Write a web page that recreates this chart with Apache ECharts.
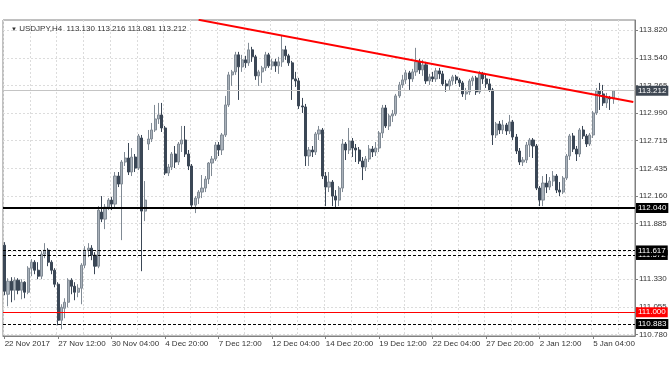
<!DOCTYPE html>
<html><head><meta charset="utf-8">
<script src="https://cdn.jsdelivr.net/npm/echarts@6/dist/echarts.min.js"></script>
<style>html,body{margin:0;padding:0;background:#fff}#c{width:672px;height:372px}</style>
</head><body><div id="c"></div>
<script>
const tickLabels = ['22 Nov 2017','27 Nov 12:00','30 Nov 04:00','4 Dec 20:00','7 Dec 12:00','12 Dec 04:00','14 Dec 20:00','19 Dec 12:00','22 Dec 04:00','27 Dec 20:00','2 Jan 12:00','5 Jan 04:00'];
const yTickValues = [113.820,113.540,113.265,112.990,112.715,112.435,112.160,111.885,111.605,111.330,111.055,110.780];
const barCount = 189;
const categories = Array.from({length: barCount}, (_, i) => String(i));

const opens = [111.67,111.18,111.31,111.22,111.32,111.22,111.30,111.20,111.44,111.50,111.42,111.36,111.58,111.62,111.50,111.42,111.28,110.92,111.04,111.10,
111.32,111.26,111.20,111.24,111.47,111.62,111.64,111.57,111.46,112.00,111.93,112.05,112.12,112.08,112.36,112.28,112.50,112.54,112.40,112.55,
112.44,112.74,112.01,112.68,112.73,112.82,112.93,112.97,112.84,112.39,112.45,112.58,112.50,112.68,112.72,112.58,112.46,112.07,112.14,112.20,
112.24,112.33,112.49,112.53,112.67,112.62,112.77,113.07,113.37,113.40,113.57,113.45,113.52,113.49,113.62,113.55,113.36,113.40,113.44,113.57,
113.46,113.50,113.46,113.50,113.62,113.56,113.49,113.33,113.31,113.06,113.05,112.56,112.62,112.60,112.78,112.82,112.36,112.25,112.30,112.16,
112.12,112.24,112.68,112.62,112.71,112.64,112.62,112.51,112.45,112.53,112.63,112.60,112.64,112.79,113.04,112.86,112.96,112.98,113.16,113.27,
113.32,113.39,113.33,113.40,113.50,113.42,113.47,113.31,113.35,113.33,113.41,113.38,113.28,113.26,113.31,113.35,113.32,113.29,113.18,113.20,
113.31,113.34,113.20,113.38,113.33,113.28,113.22,112.77,112.88,112.82,112.87,112.81,112.90,112.75,112.61,112.50,112.52,112.67,112.72,112.66,
112.24,112.12,112.29,112.25,112.31,112.36,112.22,112.20,112.34,112.56,112.76,112.63,112.58,112.82,112.76,112.68,112.77,112.99,113.21,113.18,
113.09,113.14,113.130];
const closes = [111.21,111.31,111.22,111.32,111.22,111.30,111.20,111.44,111.50,111.42,111.36,111.58,111.62,111.50,111.42,111.28,110.92,111.05,111.10,111.32,
111.26,111.20,111.24,111.47,111.62,111.64,111.57,111.46,112.02,111.93,112.05,112.12,112.08,112.36,112.28,112.50,112.54,112.40,112.55,112.44,
112.76,112.01,112.12,112.73,112.82,112.93,112.97,112.84,112.39,112.45,112.58,112.50,112.68,112.72,112.58,112.46,112.07,112.14,112.20,112.24,
112.33,112.49,112.53,112.67,112.62,112.77,113.07,113.37,113.40,113.57,113.45,113.52,113.49,113.62,113.55,113.36,113.40,113.44,113.57,113.46,
113.50,113.46,113.50,113.62,113.56,113.49,113.33,113.31,113.06,113.05,112.56,112.62,112.60,112.78,112.82,112.36,112.25,112.30,112.16,112.12,
112.24,112.68,112.62,112.71,112.64,112.62,112.51,112.45,112.53,112.63,112.60,112.64,112.79,113.04,112.86,112.96,112.98,113.16,113.27,113.32,
113.39,113.33,113.40,113.50,113.42,113.47,113.31,113.35,113.33,113.41,113.38,113.28,113.26,113.31,113.35,113.32,113.29,113.18,113.20,113.31,
113.34,113.20,113.38,113.33,113.28,113.22,112.77,112.88,112.82,112.87,112.81,112.90,112.75,112.61,112.50,112.52,112.67,112.72,112.66,112.24,
112.12,112.29,112.25,112.31,112.36,112.22,112.20,112.34,112.56,112.76,112.63,112.58,112.82,112.76,112.68,112.77,112.99,113.21,113.18,113.09,
113.14,113.13,113.212];
const lows = [111.17,111.06,111.10,111.12,111.18,111.13,111.14,111.18,111.36,111.38,111.33,111.33,111.54,111.46,111.38,111.25,110.87,110.83,110.94,111.05,
111.18,111.12,111.15,111.08,111.44,111.55,111.52,111.38,111.44,111.90,111.83,112.02,112.02,112.05,112.25,111.72,112.46,112.37,112.36,112.40,
112.42,111.41,111.91,112.62,112.70,112.80,112.88,112.80,112.37,112.36,112.42,112.44,112.47,112.60,112.55,112.42,112.04,111.99,112.08,112.14,
112.20,112.28,112.36,112.51,112.56,112.57,112.75,113.05,113.26,113.37,113.12,113.40,113.44,113.46,113.50,113.32,113.26,113.29,113.41,113.44,
113.42,113.40,113.38,113.45,113.52,113.46,113.12,113.25,113.03,112.99,112.46,112.46,112.55,112.57,112.72,112.33,112.06,112.20,112.06,112.04,
112.06,112.20,112.52,112.58,112.55,112.50,112.48,112.32,112.41,112.50,112.55,112.56,112.60,112.74,112.84,112.82,112.90,112.96,113.14,113.24,
113.28,113.22,113.30,113.36,113.38,113.36,113.28,113.27,113.30,113.30,113.33,113.26,113.20,113.22,113.27,113.28,113.25,113.15,113.12,113.17,
113.26,113.17,113.18,113.28,113.24,113.20,112.67,112.74,112.78,112.78,112.77,112.78,112.72,112.58,112.47,112.46,112.49,112.55,112.54,112.22,
112.06,112.06,112.19,112.22,112.26,112.19,112.16,112.18,112.32,112.52,112.60,112.51,112.55,112.73,112.65,112.66,112.74,112.97,113.02,113.06,
113.04,113.02,113.081];
const highs = [111.70,111.34,111.35,111.35,111.34,111.33,111.31,111.46,111.53,111.52,111.50,111.61,111.69,111.64,111.52,111.44,111.30,111.08,111.14,111.34,
111.34,111.30,111.28,111.49,111.66,111.69,111.67,111.60,112.06,112.16,112.08,112.14,112.15,112.40,112.40,112.52,112.60,112.69,112.64,112.58,
112.78,112.77,112.31,112.82,112.89,113.07,113.09,113.09,112.86,112.48,112.60,112.66,112.70,112.86,112.86,112.62,112.48,112.16,112.22,112.37,
112.36,112.50,112.56,112.70,112.70,112.79,113.16,113.40,113.42,113.60,113.60,113.57,113.56,113.69,113.65,113.57,113.42,113.46,113.60,113.59,
113.53,113.53,113.55,113.76,113.66,113.58,113.51,113.40,113.34,113.14,113.08,112.65,112.66,112.80,112.86,112.84,112.40,112.40,112.32,112.22,
112.26,112.73,112.70,112.84,112.74,112.68,112.65,112.55,112.56,112.67,112.66,112.70,112.81,113.07,113.07,112.98,113.02,113.18,113.30,113.37,
113.42,113.41,113.43,113.64,113.53,113.52,113.50,113.38,113.40,113.44,113.44,113.41,113.32,113.33,113.37,113.37,113.34,113.31,113.24,113.33,
113.36,113.36,113.41,113.40,113.37,113.33,113.24,112.90,112.91,112.92,112.89,112.97,112.92,112.78,112.64,112.55,112.70,112.74,112.74,112.68,
112.26,112.36,112.38,112.35,112.41,112.38,112.30,112.36,112.58,112.78,112.79,112.66,112.84,112.86,112.78,112.79,113.01,113.24,113.29,113.27,
113.19,113.16,113.216];

const levelValues = [112.040, 111.572, 111.617, 111.000, 110.883];
const currentPrice = 113.212;
const trendPoints = [[58, 113.92], [188, 113.10]];
const headerText = 'USDJPY,H4  113.130 113.216 113.081 113.212';

const candleData = opens.map((o, i) => [o, closes[i], lows[i], highs[i]]);

const FONT = 'Liberation Sans';
function lvlLabel(bg) {
  return {show: true, position: 'end', distance: 1, formatter: p => Number(p.value).toFixed(3),
    backgroundColor: bg, color: '#fff', fontSize: 8, fontFamily: FONT, padding: [1, 2, 0, 2], lineHeight: 9};
}
const levelStyles = [
  {lineStyle: {color: '#000', width: 2, type: 'solid'}, label: lvlLabel('#000')},
  {lineStyle: {color: '#000', width: 1, type: [3, 2]}, label: lvlLabel('#000')},
  {lineStyle: {color: '#000', width: 1, type: [3, 2]}, label: lvlLabel('#000')},
  {lineStyle: {color: '#ff0000', width: 1, type: 'solid'}, label: lvlLabel('#ff0000')},
  {lineStyle: {color: '#000', width: 1, type: [3, 2]}, label: lvlLabel('#000')}
];
const markData = [
  {yAxis: currentPrice, lineStyle: {color: '#c4c4c4', width: 1, type: 'solid'}, label: lvlLabel('#3f4853')}
].concat(levelValues.map((v, i) => Object.assign({yAxis: v}, levelStyles[i])));

const chart = echarts.init(document.getElementById('c'), null, {renderer: 'canvas'});
chart.setOption({
  animation: false,
  backgroundColor: '#fff',
  title: {
    text: '{t|▼} ' + headerText, left: 6, top: 20,
    textStyle: {fontSize: 8, fontWeight: 'normal', color: '#333', fontFamily: FONT,
      rich: {t: {fontSize: 6, color: '#333'}}}
  },
  grid: {left: 3, right: 37, top: 20, bottom: 36, show: true, borderColor: '#808080', borderWidth: 1},
  xAxis: {
    type: 'category', data: categories, boundaryGap: true,
    axisLine: {lineStyle: {color: '#808080'}},
    axisTick: {show: true, interval: 15, alignWithLabel: true, length: 3, lineStyle: {color: '#808080'}},
    axisLabel: {interval: 15, align: 'left', margin: 4, fontSize: 8, fontFamily: FONT, color: '#333',
      formatter: (v, idx) => tickLabels[idx / 16] || ''},
    splitLine: {show: true, interval: 7, lineStyle: {color: '#dcdcdc', type: [2, 2]}}
  },
  yAxis: {
    type: 'value', position: 'right', min: 110.763, max: 113.918, scale: true,
    axisLine: {show: true, lineStyle: {color: '#808080'}},
    axisTick: {show: true, length: 3, customValues: yTickValues, lineStyle: {color: '#808080'}},
    axisLabel: {customValues: yTickValues, margin: 4, fontSize: 8, fontFamily: FONT, color: '#333',
      formatter: v => v.toFixed(3)},
    splitLine: {show: true, lineStyle: {color: '#dcdcdc', type: [2, 2]}}
  },
  series: [{
    type: 'candlestick',
    data: candleData,
    barWidth: 2.6,
    itemStyle: {color: '#aab2bb', color0: '#3b4756', borderColor: '#808a94', borderColor0: '#3b4756', borderWidth: 1},
    markLine: {silent: true, symbol: ['none', 'none'], precision: 3, animation: false, data: markData}
  }, {
    type: 'line',
    data: trendPoints,
    symbol: 'none',
    silent: true,
    clip: true,
    z: 5,
    lineStyle: {color: '#ff0000', width: 2}
  }]
});
</script></body></html>
